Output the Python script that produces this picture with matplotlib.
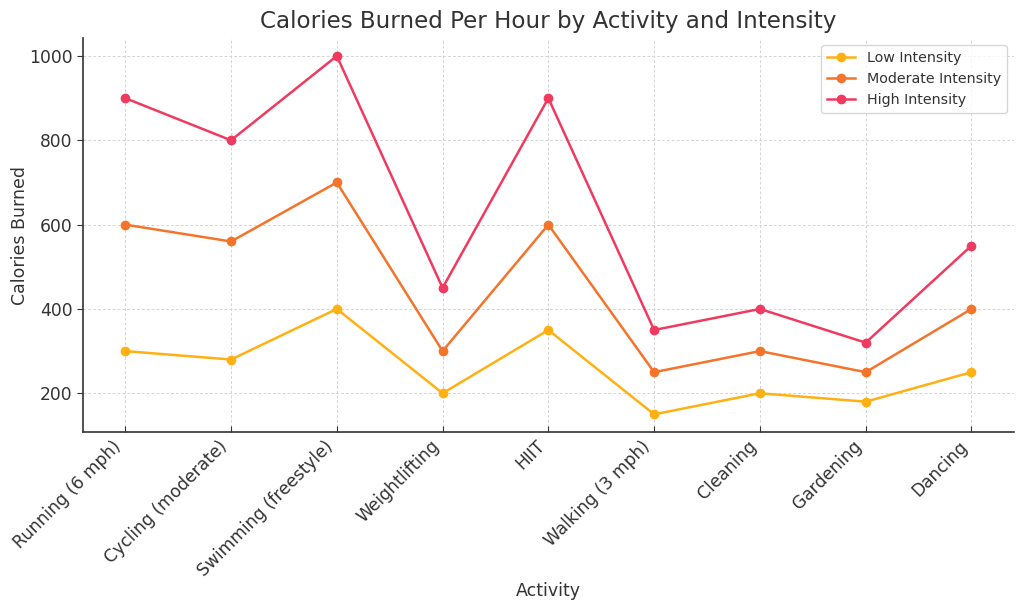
import matplotlib
matplotlib.use("Agg")
import matplotlib.pyplot as plt

activities = ["Running (6 mph)", "Cycling (moderate)", "Swimming (freestyle)",
              "Weightlifting", "HIIT", "Walking (3 mph)", "Cleaning", "Gardening", "Dancing"]
low = [300, 280, 400, 200, 350, 150, 200, 180, 250]
moderate = [600, 560, 700, 300, 600, 250, 300, 250, 400]
high = [900, 800, 1000, 450, 900, 350, 400, 320, 550]

text_color = "#333333"
plt.rcParams['font.family'] = ['DejaVu Sans']
fig = plt.figure(figsize=(10.24, 6.14), dpi=100)
ax = fig.add_axes([0.081, 0.296, 0.909, 0.642])

ax.plot(activities, low, marker='o', color='#FFB114', label='Low Intensity', linewidth=1.8, markersize=6)
ax.plot(activities, moderate, marker='o', color='#F4742B', label='Moderate Intensity', linewidth=1.8, markersize=6)
ax.plot(activities, high, marker='o', color='#F03A5F', label='High Intensity', linewidth=1.8, markersize=6)

ax.set_title("Calories Burned Per Hour by Activity and Intensity", fontsize=16.6, color=text_color, pad=7)
ax.set_xlabel("Activity", fontsize=12.5, color=text_color, labelpad=2)
ax.set_ylabel("Calories Burned", fontsize=12.5, color=text_color, labelpad=0)
ax.grid(True, linestyle=(0, (3, 2)), color='#d4d4d4', linewidth=0.7)
ax.set_axisbelow(True)
for s in ['top', 'right']:
    ax.spines[s].set_visible(False)
for s in ['left', 'bottom']:
    ax.spines[s].set_color('#333333')
    ax.spines[s].set_linewidth(1.2)
ax.tick_params(axis='x', direction='in', length=4, colors=text_color, labelsize=12.3)
ax.tick_params(axis='y', direction='out', length=4, colors=text_color, labelsize=12.3)
plt.setp(ax.get_xticklabels(), rotation=45, ha='right')
leg = ax.legend(loc='upper right', fontsize=10.3)
for t in leg.get_texts():
    t.set_color(text_color)

fig.savefig("out.png", dpi=100)
